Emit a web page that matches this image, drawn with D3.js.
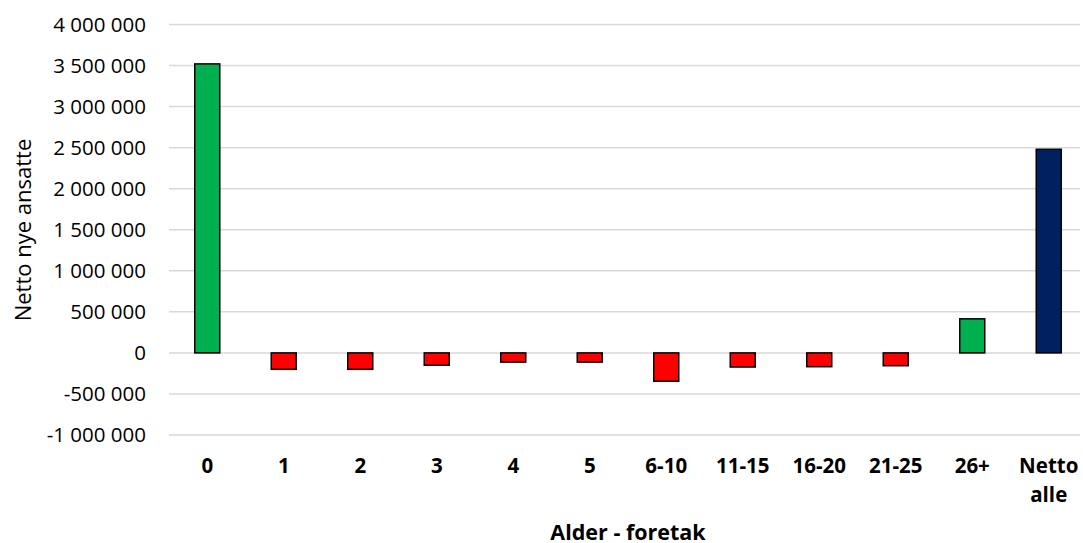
<!DOCTYPE html>
<meta charset="utf-8">
<html>
<head>
<style>
  body { margin: 0; background: #fff; }
  text { font-family: "Open Sans", "Noto Sans", sans-serif; fill: #000; }
</style>
</head>
<body>
<div id="chart"></div>
<script src="https://d3js.org/d3.v7.min.js"></script>
<script>
  // data
  var categories = ["0", "1", "2", "3", "4", "5", "6-10", "11-15", "16-20", "21-25", "26+", "Netto alle"];
  var values = [3520000, -200000, -200000, -150000, -112000, -112000, -345000, -172000, -168000, -156000, 415000, 2480000];
  var barColors = ["#00b050", "#ff0000", "#ff0000", "#ff0000", "#ff0000", "#ff0000", "#ff0000", "#ff0000", "#ff0000", "#ff0000", "#00b050", "#002060"];
  var yTicks = [-1000000, -500000, 0, 500000, 1000000, 1500000, 2000000, 2500000, 3000000, 3500000, 4000000];

  var W = 1083, H = 543;
  var plotLeft = 169, plotRight = 1080, plotTop = 24.5, plotBottom = 435;

  var svg = d3.select("#chart").append("svg")
      .attr("width", W)
      .attr("height", H);

  var x = d3.scaleBand()
      .domain(categories)
      .range([plotLeft, 1087])
      .paddingInner(0.673)
      .paddingOuter(0.3365);

  var y = d3.scaleLinear()
      .domain([-1000000, 4000000])
      .range([plotBottom, plotTop]);

  var fmt = function(v) {
    return d3.format(",")(v).replace(/,/g, " ").replace("−", "-");
  };

  // gridlines
  svg.append("g")
    .selectAll("line")
    .data(yTicks)
    .enter().append("line")
      .attr("x1", plotLeft)
      .attr("x2", plotRight)
      .attr("y1", function(d) { return y(d); })
      .attr("y2", function(d) { return y(d); })
      .attr("stroke", "#d9d9d9")
      .attr("stroke-width", 1.5);

  // y tick labels
  svg.append("g")
    .selectAll("text")
    .data(yTicks)
    .enter().append("text")
      .attr("x", 146)
      .attr("y", function(d) { return y(d); })
      .attr("dy", "0.36em")
      .attr("text-anchor", "end")
      .style("font-size", "20.5px")
      .text(function(d) { return fmt(d); });

  // bars
  svg.append("g")
    .selectAll("rect")
    .data(values)
    .enter().append("rect")
      .attr("x", function(d, i) { return x(categories[i]); })
      .attr("width", x.bandwidth())
      .attr("y", function(d) { return y(Math.max(0, d)); })
      .attr("height", function(d) { return Math.abs(y(d) - y(0)); })
      .attr("fill", function(d, i) { return barColors[i]; })
      .attr("stroke", "#000")
      .attr("stroke-width", 1.5);

  // x labels
  var xl = svg.append("g")
    .selectAll("text")
    .data(categories)
    .enter().append("text")
      .attr("x", function(d) { return x(d) + x.bandwidth() / 2; })
      .attr("y", 473)
      .attr("text-anchor", "middle")
      .style("font-size", "20.5px")
      .style("font-weight", "bold");
  xl.each(function(d) {
    var parts = d.split(" ");
    var t = d3.select(this);
    parts.forEach(function(p, i) {
      t.append("tspan")
        .attr("x", t.attr("x"))
        .attr("dy", i === 0 ? 0 : 29)
        .text(p);
    });
  });

  // axis titles
  svg.append("text")
    .attr("transform", "translate(31,230) rotate(-90)")
    .attr("text-anchor", "middle")
    .style("font-size", "22px")
    .text("Netto nye ansatte");

  svg.append("text")
    .attr("x", 628)
    .attr("y", 540)
    .attr("text-anchor", "middle")
    .style("font-size", "21.5px")
    .style("font-weight", "bold")
    .text("Alder - foretak");
</script>
</body>
</html>
